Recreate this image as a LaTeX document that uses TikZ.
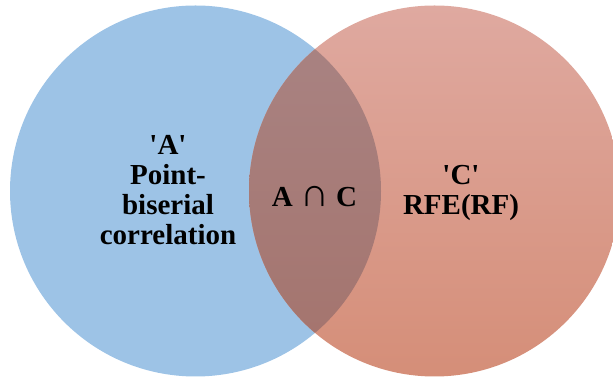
\documentclass[tikz,border=0pt]{standalone}
\usepackage{fontspec}
\setmainfont{Liberation Serif}
\begin{document}
\begin{tikzpicture}[x=1pt,y=1pt,
  lbl/.style={font=\fontsize{29}{30}\selectfont\bfseries, inner sep=0pt, anchor=base}]
\definecolor{setblue}{HTML}{9DC3E6}
\definecolor{salmontop}{HTML}{DFA9A0}
\definecolor{salmonbot}{HTML}{D58E78}
\definecolor{overtop}{HTML}{A98484}
\definecolor{overbot}{HTML}{A4736C}
\newcommand{\sq}{\textquotesingle}
\useasboundingbox (0,0) rectangle (613,379);
\clip (0,0) rectangle (613,379);
% set A
\fill[setblue] (195.5,188) circle[radius=185.5];
% set C
\shade[top color=salmontop, bottom color=salmonbot] (434.5,188) circle[radius=185.5];
% intersection
\begin{scope}
  \clip (195.5,188) circle[radius=185.5];
  \shade[top color=overtop, bottom color=overbot] (434.5,188) circle[radius=185.5];
\end{scope}
% labels of set A
\node[lbl] (a1) at (168,224) {\sq A\sq};
\node[lbl] (a2) at (168,194.5) {Point-};
\node[lbl] (a3) at (168,164.5) {biserial};
\node[lbl] (a4) at (168,134.5) {correlation};
% labels of set C
\node[lbl] (c1) at (461,194) {\sq C\sq};
\node[lbl] (c2) at (461,164) {RFE(RF)};
% intersection label
\node[lbl] (ac) at (314.5,172) {A {\mdseries\fontsize{40}{30}\selectfont ∩} C};
\end{tikzpicture}
\end{document}
